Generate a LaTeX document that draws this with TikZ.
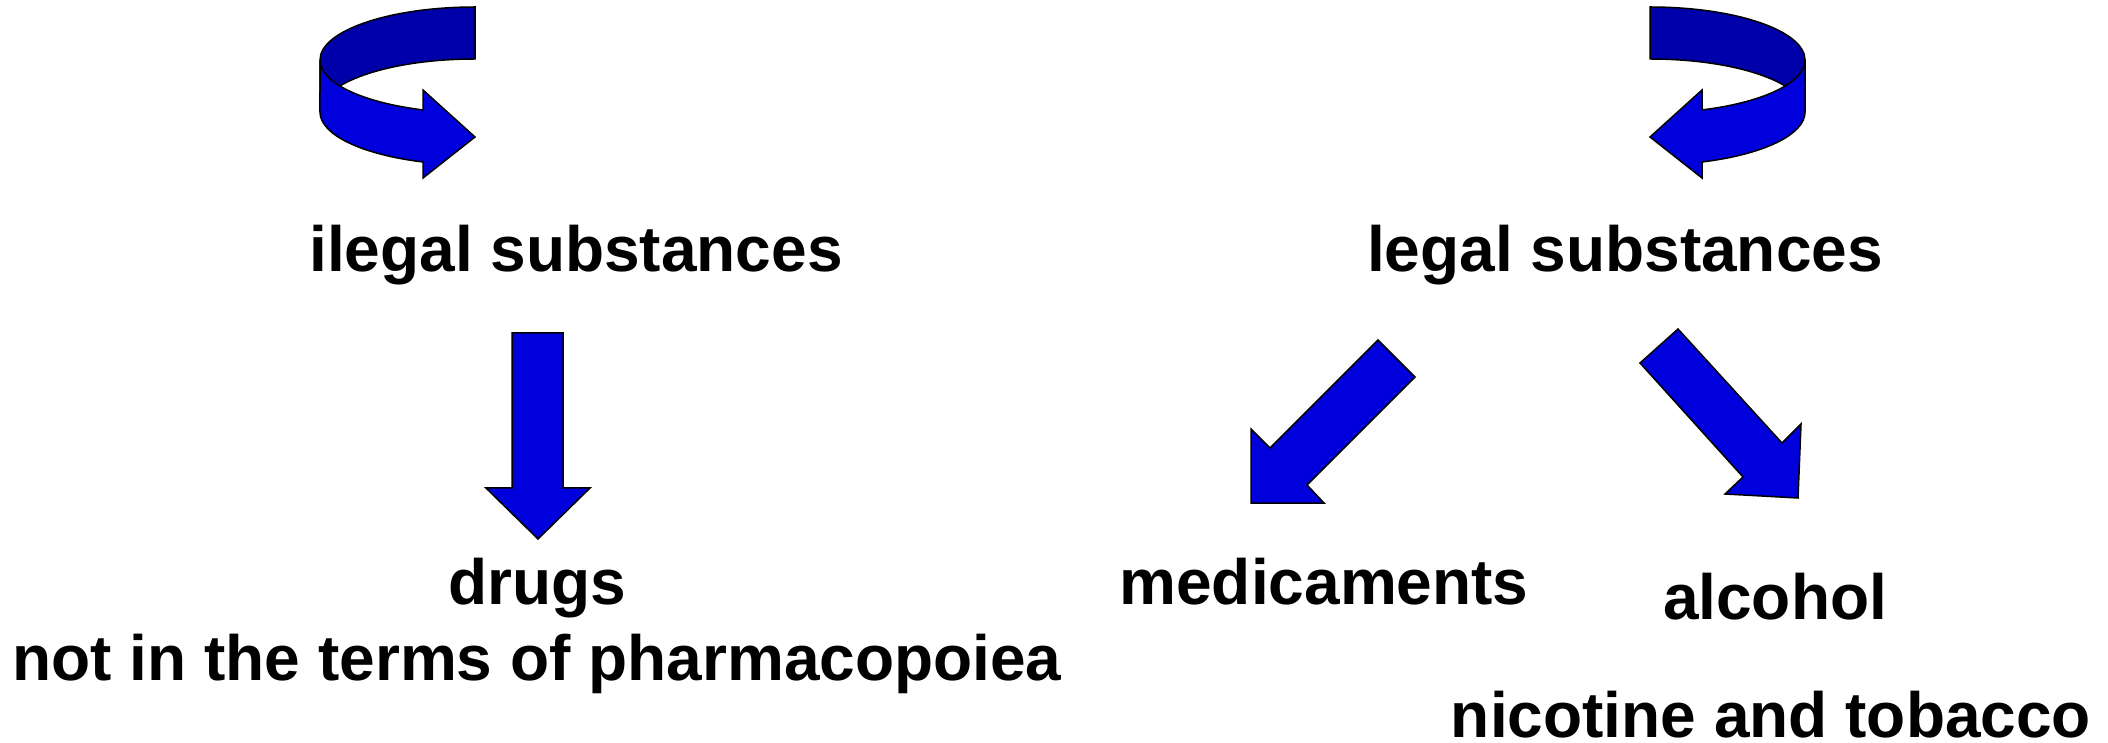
\documentclass[tikz,border=0pt]{standalone}
\usepackage{fontspec}
\setmainfont{Liberation Sans}
\definecolor{bandfront}{HTML}{0000DD}
\definecolor{bandback}{HTML}{0000AA}
\begin{document}
\begin{tikzpicture}[x=1pt,y=1pt,
  lbl/.style={anchor=base,inner sep=0pt,font=\fontsize{64}{70}\selectfont\bfseries},
  front/.style={fill=bandfront,draw=black,line width=1.5pt,line join=miter},
  back/.style={fill=bandback,draw=black,line width=1.5pt,line join=miter}]
\useasboundingbox (0,0) rectangle (2108,742);
% curved arrow left
\path[back] (475,735) arc[start angle=90,end angle=180,x radius=155,y radius=53]
  -- (320,630) arc[start angle=180,end angle=90,x radius=155,y radius=53] -- cycle;
\path[front] (320,682) arc[start angle=180,end angle=250.4,x radius=155,y radius=53]
  -- (423,652) -- (475,605) -- (423,564) -- (423,580)
  arc[start angle=250.4,end angle=180,x radius=155,y radius=53] -- cycle;
% curved arrow right
\path[back] (1650,735) arc[start angle=90,end angle=0,x radius=155,y radius=53]
  -- (1805,630) arc[start angle=0,end angle=90,x radius=155,y radius=53] -- cycle;
\path[front] (1805,682) arc[start angle=360,end angle=289.6,x radius=155,y radius=53]
  -- (1702,652) -- (1650,605) -- (1702,564) -- (1702,580)
  arc[start angle=289.6,end angle=360,x radius=155,y radius=53] -- cycle;
% labels
\node[lbl] (ileg) at (576,470) {ilegal substances};
\node[lbl] (leg) at (1625,470) {legal substances};
\node[lbl] (drugs) at (537,138) {drugs};
\node[lbl] (notin) at (537,62) {not in the terms of pharmacopoiea};
\node[lbl] (medic) at (1324,138) {medicaments};
\node[lbl] (alc) at (1775,123) {alcohol};
\node[lbl,text depth=0pt] (nic) at (1771,5) {nicotine and tobacco};
% block arrows
\path[front] (512,409) -- (563,409) -- (563,254) -- (590,254) -- (538,203)
  -- (486,254) -- (512,254) -- cycle;
\path[front] (1378,402) -- (1415,365) -- (1307,257) -- (1324,239) -- (1251,239)
  -- (1251,313) -- (1270,294) -- cycle;
\path[front] (1678,413) -- (1640,379) -- (1743,265) -- (1725,248) -- (1798,244)
  -- (1801,318) -- (1782,299) -- cycle;
\end{tikzpicture}
\end{document}
